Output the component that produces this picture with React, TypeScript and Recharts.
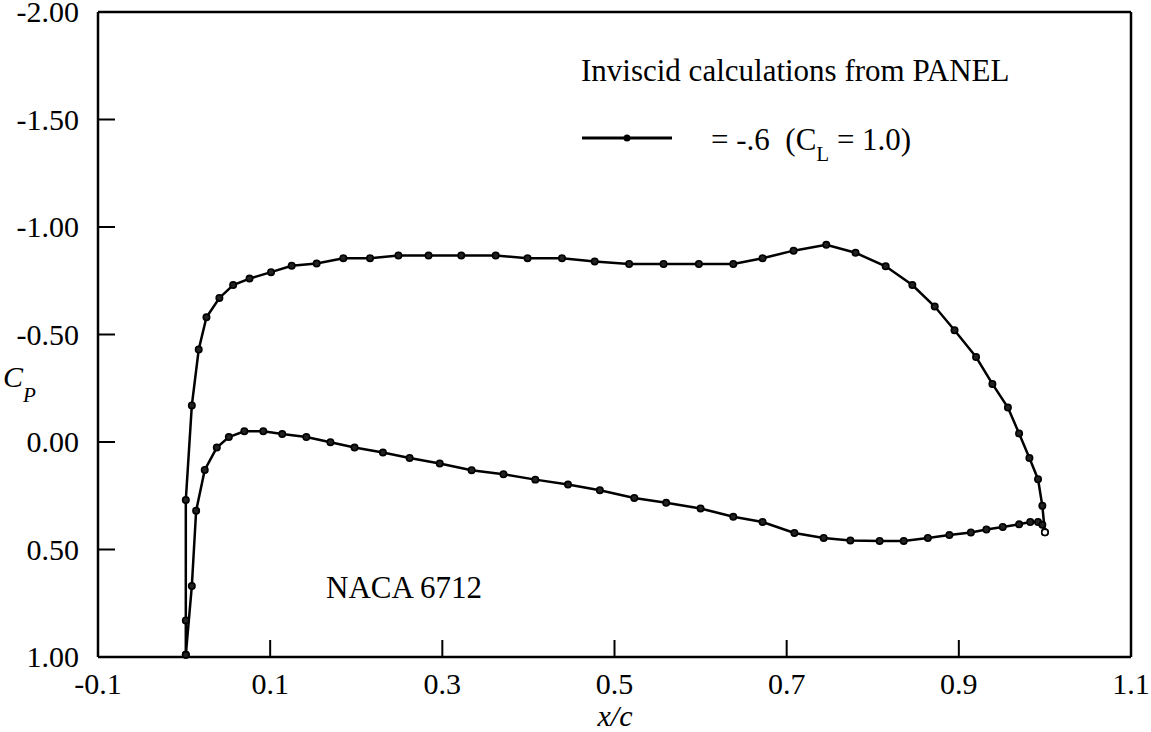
import React from 'react';
import { LineChart, Line, XAxis, YAxis } from 'recharts';

// Upper surface (suction side), leading edge -> trailing edge
const upperX = [0.002, 0.002, 0.002, 0.009, 0.017, 0.026, 0.041, 0.057, 0.076, 0.101, 0.125, 0.154, 0.185, 0.216, 0.249, 0.284, 0.322, 0.362, 0.399, 0.439, 0.477, 0.517, 0.557, 0.598, 0.638, 0.672, 0.708, 0.746, 0.780, 0.815, 0.846, 0.872, 0.895, 0.920, 0.939, 0.957, 0.970, 0.982, 0.992, 0.997, 1.000];
const upperCp = [0.99, 0.83, 0.27, -0.17, -0.43, -0.58, -0.67, -0.73, -0.76, -0.79, -0.82, -0.83, -0.855, -0.855, -0.867, -0.867, -0.867, -0.867, -0.855, -0.855, -0.84, -0.828, -0.828, -0.828, -0.828, -0.855, -0.89, -0.917, -0.88, -0.817, -0.73, -0.63, -0.52, -0.395, -0.27, -0.16, -0.04, 0.074, 0.173, 0.297, 0.42];

// Lower surface (pressure side), leading edge -> trailing edge
const lowerX = [0.002, 0.009, 0.014, 0.024, 0.038, 0.052, 0.070, 0.092, 0.114, 0.142, 0.170, 0.198, 0.231, 0.262, 0.297, 0.334, 0.371, 0.408, 0.446, 0.483, 0.523, 0.560, 0.600, 0.638, 0.672, 0.709, 0.743, 0.774, 0.808, 0.836, 0.864, 0.889, 0.914, 0.932, 0.951, 0.970, 0.983, 0.992, 0.997, 1.000];
const lowerCp = [0.99, 0.67, 0.32, 0.13, 0.026, -0.023, -0.05, -0.05, -0.037, -0.023, 0.001, 0.026, 0.049, 0.074, 0.10, 0.131, 0.15, 0.175, 0.198, 0.224, 0.26, 0.283, 0.309, 0.348, 0.372, 0.423, 0.446, 0.458, 0.46, 0.46, 0.446, 0.433, 0.421, 0.407, 0.395, 0.383, 0.372, 0.372, 0.385, 0.42];

const xTicks = [-0.1, 0.1, 0.3, 0.5, 0.7, 0.9, 1.1];
const yTicks = [-2, -1.5, -1, -0.5, 0, 0.5, 1];

const upperData = upperX.map((x, i) => ({ x, cp: upperCp[i] }));
const lowerData = lowerX.map((x, i) => ({ x, cp: lowerCp[i] }));

const FONT = "'Liberation Serif', 'Times New Roman', Times, 'DejaVu Serif', serif";
const serif = { fontFamily: FONT };
const TICK = 17;

const LeftTick = ({ x, y, payload }: any) => (
  <g>
    <line x1={x} x2={x + TICK} y1={y} y2={y} stroke="#000" strokeWidth={2} />
    <text x={x - 19} y={y + 10} textAnchor="end" fontSize={30} style={serif} fill="#000">
      {payload.value.toFixed(2)}
    </text>
  </g>
);

const RightTick = ({ x, y }: any) => (
  <line x1={x} x2={x - TICK} y1={y} y2={y} stroke="#000" strokeWidth={2} />
);

const BottomTick = ({ x, y, payload }: any) => (
  <g>
    <line x1={x} x2={x} y1={y} y2={y - TICK} stroke="#000" strokeWidth={2} />
    <text x={x} y={y + 37} textAnchor="middle" fontSize={30} style={serif} fill="#000">
      {payload.value.toFixed(1)}
    </text>
  </g>
);

const TopTick = ({ x, y }: any) => (
  <line x1={x} x2={x} y1={y} y2={y + TICK} stroke="#000" strokeWidth={2} />
);

const makeDot = (total: number) => (p: any) => (
  <circle
    key={`d-${p.index}`}
    cx={p.cx}
    cy={p.cy}
    r={3.2}
    fill={p.index === total - 1 ? '#fff' : '#222'}
    stroke="#000"
    strokeWidth={1.6}
  />
);

export default function App() {
  return (
    <div style={{ position: 'absolute', left: 0, top: 0, width: 1151, height: 732, background: '#fff', ...serif }}>
      <LineChart width={1151} height={732} margin={{ top: 0, right: 0, bottom: 0, left: 0 }}>
        <XAxis
          xAxisId="bottom"
          type="number"
          dataKey="x"
          domain={[-0.1, 1.1]}
          ticks={xTicks}
          interval={0}
          height={75}
          tickSize={0}
          tickMargin={0}
          tickLine={false}
          axisLine={{ stroke: '#000', strokeWidth: 2.5 }}
          tick={<BottomTick />}
        />
        <XAxis
          xAxisId="top"
          orientation="top"
          type="number"
          dataKey="x"
          domain={[-0.1, 1.1]}
          ticks={xTicks}
          interval={0}
          height={12}
          tickSize={0}
          tickMargin={0}
          tickLine={false}
          axisLine={{ stroke: '#000', strokeWidth: 2.5 }}
          tick={<TopTick />}
        />
        <YAxis
          yAxisId="left"
          type="number"
          domain={[-2, 1]}
          reversed
          ticks={yTicks}
          interval={0}
          width={98}
          tickSize={0}
          tickMargin={0}
          tickLine={false}
          axisLine={{ stroke: '#000', strokeWidth: 2.5 }}
          tick={<LeftTick />}
        />
        <YAxis
          yAxisId="right"
          orientation="right"
          type="number"
          domain={[-2, 1]}
          reversed
          ticks={yTicks}
          interval={0}
          width={20}
          tickSize={0}
          tickMargin={0}
          tickLine={false}
          axisLine={{ stroke: '#000', strokeWidth: 2.5 }}
          tick={<RightTick />}
        />
        <Line
          xAxisId="bottom"
          yAxisId="left"
          data={upperData}
          dataKey="cp"
          type="linear"
          stroke="#000"
          strokeWidth={2.5}
          dot={makeDot(upperData.length)}
          isAnimationActive={false}
        />
        <Line
          xAxisId="bottom"
          yAxisId="left"
          data={lowerData}
          dataKey="cp"
          type="linear"
          stroke="#000"
          strokeWidth={2.5}
          dot={makeDot(lowerData.length)}
          isAnimationActive={false}
        />
      </LineChart>
      <svg width={1151} height={732} style={{ position: 'absolute', left: 0, top: 0, pointerEvents: 'none' }}>
        <g style={serif} fill="#000">
          <text x={581} y={81} fontSize={31} style={serif}>Inviscid calculations from PANEL</text>
          <line x1={582} x2={672} y1={138} y2={138} stroke="#000" strokeWidth={3} />
          <circle cx={627} cy={138} r={3.5} fill="#000" />
          <text x={711} y={150} fontSize={31} style={{ ...serif, whiteSpace: 'pre' }}>
            {'= -.6  (C'}
            <tspan fontSize={21} dy={11}>L</tspan>
            <tspan dy={-11}>{' = 1.0)'}</tspan>
          </text>
          <text x={326} y={598} fontSize={31} style={serif}>NACA 6712</text>
          <text x={615} y={726} fontSize={30} fontStyle="italic" textAnchor="middle" style={serif}>x/c</text>
          <text x={3} y={387} fontSize={30} fontStyle="italic" style={serif}>C</text>
          <text x={23} y={402} fontSize={21} fontStyle="italic" style={serif}>P</text>
        </g>
      </svg>
    </div>
  );
}
